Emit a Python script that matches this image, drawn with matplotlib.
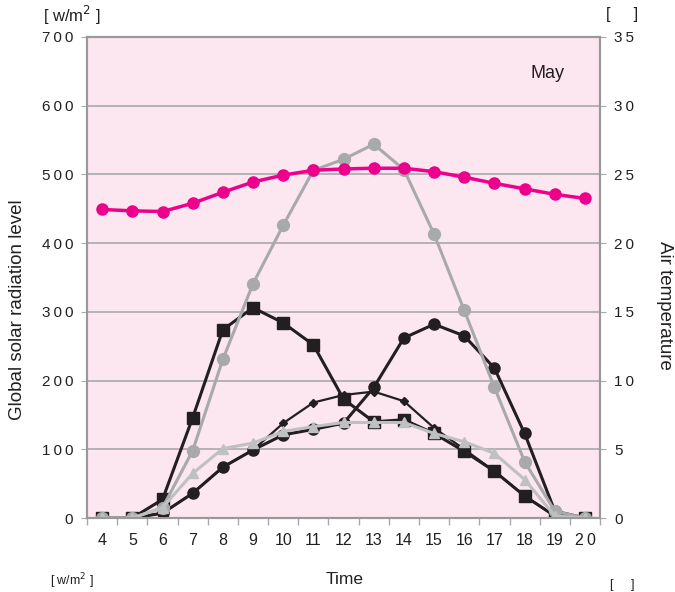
import matplotlib.pyplot as plt

plt.rcParams['font.family'] = ['Liberation Sans', 'DejaVu Sans']

# hours of the day
hours = list(range(4, 21))

# global solar radiation [w/m2], left axis
rad_gray = [0, 0, 15, 98, 231, 341, 426, 506, 522, 544, 507, 413, 302, 190, 82, 10, 0]
rad_square = [0, 0, 27, 146, 274, 306, 284, 252, 173, 140, 143, 123, 97, 68, 32, 3, 0]
rad_circle = [0, 0, 7, 36, 74, 99, 121, 129, 138, 190, 262, 282, 265, 218, 123, 10, 0]
rad_diamond = [0, 0, 7, 36, 74, 99, 138, 168, 179, 184, 170, 131, 100, 68, 32, 3, 0]
rad_triangle = [0, 0, 15, 65, 101, 109, 126, 133, 139, 139, 139, 123, 111, 94, 56, 3, 0]

# air temperature, right axis
air_temp = [22.45, 22.35, 22.3, 22.9, 23.7, 24.45, 24.95, 25.3, 25.4, 25.45,
            25.45, 25.2, 24.8, 24.35, 23.95, 23.55, 23.25]

left_ticks = [0, 100, 200, 300, 400, 500, 600, 700]
right_ticks = [0, 5, 10, 15, 20, 25, 30, 35]

spaced = lambda v: '\u2009'.join(str(v))

fig = plt.figure(figsize=(6.75, 5.92), dpi=100)
ax = fig.add_axes([0.129, 0.125, 0.76, 0.8125])
ax.set_facecolor('#fce6ef')

x = list(range(len(hours)))
blk = '#231f20'
ax.plot(x, rad_square, color=blk, lw=2.2, marker='s', ms=8, zorder=3)
ax.plot(x, rad_circle, color=blk, lw=2.2, marker='o', ms=8, zorder=3)
ax.plot(x, rad_diamond, color=blk, lw=1.6, marker='D', ms=4.5, zorder=3)
ax.plot(x, rad_gray, color='#a8a9ab', lw=2.2, marker='o', ms=8.5, zorder=4)
ax.plot(x, rad_triangle, color='#bfc0c2', lw=2.2, marker='^', ms=7.5, zorder=4)

ax.set_xlim(-0.5, len(hours) - 0.5)
ax.set_ylim(0, 700)
ax.set_yticks(left_ticks)
ax.set_yticklabels([spaced(v) for v in left_ticks])
ax.grid(axis='y', color='#a7a9ac', lw=1.2)
ax.set_axisbelow(True)

ax.set_xticks(x)
ax.set_xticklabels([str(h) for h in hours[:-1]] + [spaced(hours[-1])])
ax.set_xticks([i - 0.5 for i in range(len(hours) + 1)], minor=True)
ax.tick_params(axis='x', which='major', length=0, pad=11, labelsize=11.5, colors='#231f20')
ax.tick_params(axis='x', which='minor', length=5, color='#a7a9ac', width=1)
ax.tick_params(axis='y', length=4, color='#a7a9ac', labelsize=11, colors='#231f20', pad=6)
for s in ax.spines.values():
    s.set_color('#999999')
    s.set_linewidth(1.5)

ax2 = ax.twinx()
ax2.plot(x, air_temp, color='#ec008c', lw=2.5, marker='o', ms=8, zorder=5)
ax2.set_ylim(0, 35)
ax2.set_yticks(right_ticks)
ax2.set_yticklabels([spaced(v) for v in right_ticks])
ax2.tick_params(axis='y', length=4, color='#a7a9ac', labelsize=11, colors='#231f20', pad=6)
for s in ax2.spines.values():
    s.set_color('#999999')
    s.set_linewidth(1.5)

tc = '#231f20'
fig.text(18 / 675, 1 - 310 / 592, 'Global solar radiation level', rotation=90,
         ha='center', va='center', fontsize=13.5, color=tc)
fig.text(664 / 675, 1 - 305 / 592, 'Air temperature', rotation=-90,
         ha='center', va='center', fontsize=13.5, color=tc)
fig.text(345 / 675, 1 - 580 / 592, 'Time', ha='center', va='center', fontsize=12.5, color=tc)
fig.text(548 / 675, 1 - 73 / 592, 'May', ha='center', va='center', fontsize=13, color=tc)
fig.text(72 / 675, 1 - 15 / 592, '[ w/m$^2$ ]', ha='center', va='center', fontsize=12, color=tc)
fig.text(622 / 675, 1 - 15 / 592, '[     ]', ha='center', va='center', fontsize=12, color=tc)
fig.text(72 / 675, 0.002, '[ w/m$^2$ ]', ha='center', va='bottom', fontsize=9, color=tc)
fig.text(622 / 675, 0.002, '[     ]', ha='center', va='bottom', fontsize=9, color=tc)

fig.savefig('out.png', dpi=100)
